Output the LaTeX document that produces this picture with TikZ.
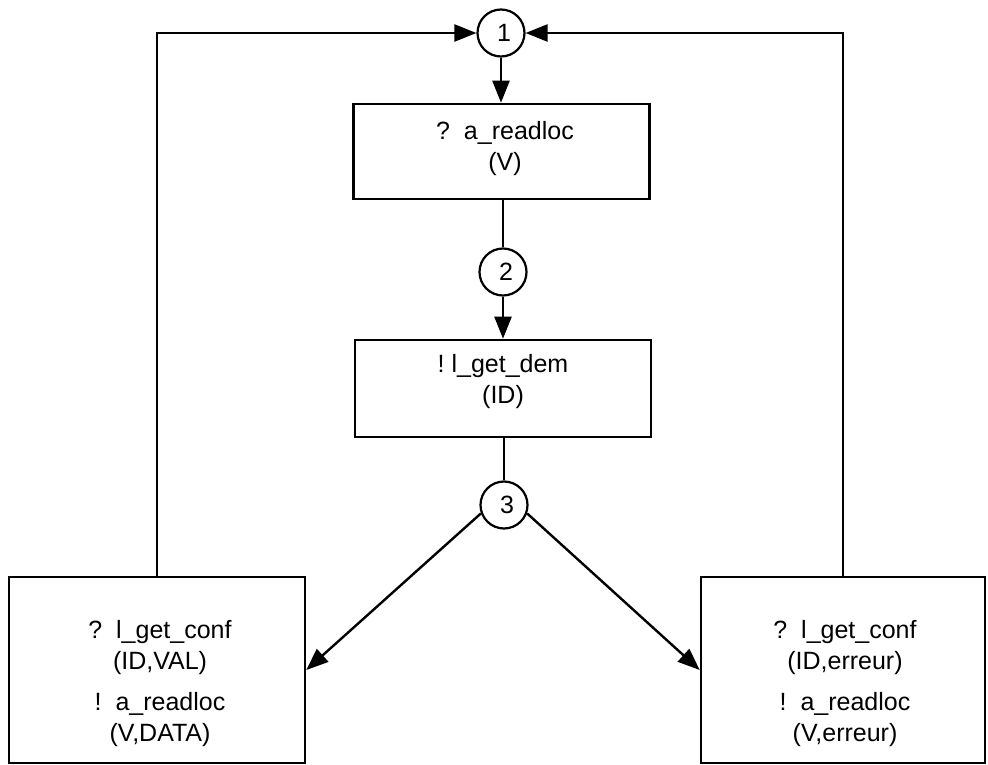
\documentclass[tikz,border=0pt]{standalone}
\usepackage{fontspec}
\setmainfont{Liberation Sans}
\usetikzlibrary{arrows.meta,shapes.geometric}
\begin{document}
\begin{tikzpicture}[x=1pt,y=-1pt,
  every node/.style={font=\fontsize{25}{31}\selectfont},
  state/.style={draw,circle,line width=2.2pt,minimum size=47pt,inner sep=0pt},
  actbox/.style={draw,rectangle,line width=2.6pt,minimum width=296pt,inner sep=0pt},
  bigbox/.style={draw,rectangle,line width=2.6pt,inner sep=0pt},
  txt/.style={align=center,inner sep=0pt},
  conn/.style={line width=2pt},
  arr/.style={line width=2.4pt,-{Triangle[length=22pt,width=17pt]}}]
\useasboundingbox (0,0) rectangle (988,765);
% states
\node[state] (c1) at (501,33) {\hspace{6pt}1};
\node[state] (c2) at (503,272) {\hspace{6pt}2};
\node[state] (c3) at (504,505) {\hspace{6pt}3};
% boxes
\node[actbox,minimum height=95pt] (b1) at (501.5,151.5) {};
\node[txt] (t1) at (505,149) {?\ \ a\_readloc\\(V)};
\node[actbox,minimum height=97pt] (b2) at (503,388.5) {};
\node[txt] (t2) at (503,382) {!\ l\_get\_dem\\(ID)};
\node[bigbox,minimum width=296pt,minimum height=186pt] (L) at (157,670) {};
\node[txt] (Lt) at (160,684) {?\ \ l\_get\_conf\\(ID,VAL)\\[10pt]!\ \ a\_readloc\\(V,DATA)};
\node[bigbox,minimum width=284pt,minimum height=186pt] (R) at (843,670) {};
\node[txt] (Rt) at (845,684) {?\ \ l\_get\_conf\\(ID,erreur)\\[10pt]!\ \ a\_readloc\\(V,erreur)};
% connectors
\draw[arr] (L.north) |- (c1.west);
\draw[arr] (R.north) |- (c1.east);
\draw[arr] (c1.south) -- (c1.south |- b1.north);
\draw[conn] (c2.north |- b1.south) -- (c2.north);
\draw[arr] (c2.south) -- (c2.south |- b2.north);
\draw[conn] (c3.north |- b2.south) -- (c3.north);
\draw[arr] (c3.200) -- (L.east);
\draw[arr] (c3.-20) -- (R.west);
\end{tikzpicture}
\end{document}
